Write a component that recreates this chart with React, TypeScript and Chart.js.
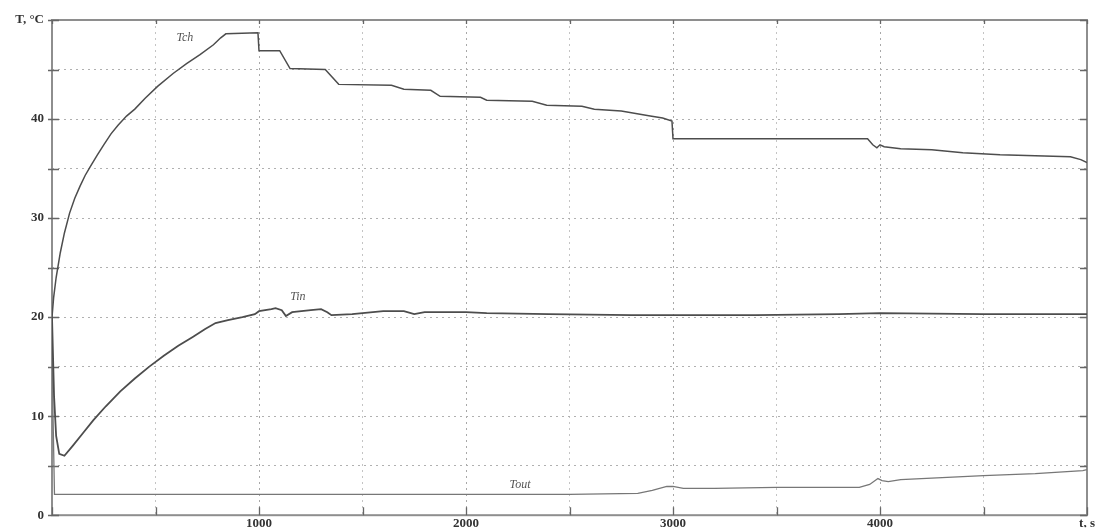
import React, { useEffect, useRef } from "react";
import { Chart, registerables } from "chart.js";

Chart.register(...registerables);

// ---- data (time in s, temperature in °C) ----
const tchTime = [0, 8, 20, 40, 60, 85, 110, 135, 160, 185, 220, 250, 285, 320, 360, 400, 450, 510, 585, 650, 715, 780, 815, 840, 995,
  1000, 1100, 1150, 1320, 1385, 1640, 1700, 1830, 1875, 2070, 2100, 2320, 2390, 2560, 2620, 2750, 2890, 2950, 2995,
  3000, 3940, 3965, 3985, 4000, 4020, 4100, 4250, 4400, 4580, 4750, 4920, 4970, 5000];
const tchTemp = [20, 22, 24, 26.5, 28.5, 30.5, 32, 33.2, 34.3, 35.2, 36.4, 37.4, 38.5, 39.4, 40.3, 41.0, 42.1, 43.3, 44.6, 45.6, 46.5, 47.5, 48.2, 48.6, 48.7,
  46.9, 46.9, 45.1, 45.0, 43.5, 43.4, 43.0, 42.9, 42.3, 42.2, 41.9, 41.8, 41.4, 41.3, 41.0, 40.8, 40.3, 40.1, 39.8,
  38.0, 38.0, 37.4, 37.1, 37.4, 37.2, 37.0, 36.9, 36.6, 36.4, 36.3, 36.2, 35.9, 35.6];

const tinTime = [0, 10, 20, 35, 60, 100, 150, 200, 260, 330, 400, 470, 540, 610, 680, 740, 790, 850, 920, 980, 1000, 1060, 1080, 1110,
  1130, 1160, 1250, 1300, 1330, 1350, 1450, 1600, 1700, 1750, 1800, 2000, 2100, 2400, 2800, 3000, 3400, 3800, 4000, 4500, 5000];
const tinTemp = [20, 12, 8, 6.2, 6.0, 7.0, 8.3, 9.6, 11.0, 12.5, 13.8, 15.0, 16.1, 17.1, 18.0, 18.8, 19.4, 19.7, 20.0, 20.3, 20.6, 20.8, 20.9, 20.7,
  20.1, 20.5, 20.7, 20.8, 20.5, 20.2, 20.3, 20.6, 20.6, 20.3, 20.5, 20.5, 20.4, 20.3, 20.2, 20.2, 20.2, 20.3, 20.4, 20.3, 20.3];

const toutTime = [0, 5, 12, 2500, 2830, 2900, 2970, 3000, 3050, 3200, 3500, 3900, 3950, 3990, 4010, 4040, 4100, 4300, 4500, 4750, 4980, 5000];
const toutTemp = [20, 10, 2.1, 2.1, 2.2, 2.5, 2.9, 2.9, 2.7, 2.7, 2.8, 2.8, 3.1, 3.7, 3.5, 3.4, 3.6, 3.8, 4.0, 4.2, 4.5, 4.6];

const curveNames = ["Tch", "Tin", "Tout"];
const curveLabelTime = [642, 1188, 2261];
const curveLabelTemp = [48.2, 22.0, 3.1];

const xMax = 5000;
const yMax = 50;
const xStep = 500;
const yStep = 5;
const xAxisTitle = "t, s";
const yAxisTitle = "T, °C";

const toPoints = (t: number[], v: number[]) => t.map((x, i) => ({ x, y: v[i] }));

const FONT = '"Liberation Serif", "DejaVu Serif", serif';

const framePlugin = {
  id: "frame",
  beforeDatasetsDraw(chart: any) {
    const { ctx, chartArea: a, scales } = chart;
    const xs = scales.x;
    const ys = scales.y;
    ctx.save();
    ctx.strokeStyle = "#8e8e8e";
    ctx.lineWidth = 2;
    ctx.strokeRect(a.left, a.top, a.right - a.left, a.bottom - a.top);
    ctx.strokeStyle = "#666";
    ctx.lineWidth = 1.3;
    ctx.beginPath();
    ys.ticks.forEach((t: any) => {
      const py = Math.round(ys.getPixelForValue(t.value)) + 0.5;
      ctx.moveTo(a.left - 4, py);
      ctx.lineTo(a.left + 7, py);
      ctx.moveTo(a.right - 7, py);
      ctx.lineTo(a.right, py);
    });
    xs.ticks.forEach((t: any) => {
      const px = Math.round(xs.getPixelForValue(t.value)) + 0.5;
      ctx.moveTo(px, a.bottom);
      ctx.lineTo(px, a.bottom - 8);
      ctx.moveTo(px, a.top);
      ctx.lineTo(px, a.top + 4);
    });
    ctx.stroke();
    ctx.restore();
  },
  afterDatasetsDraw(chart: any) {
    const { ctx, scales } = chart;
    ctx.save();
    ctx.fillStyle = "#555";
    ctx.font = `italic 12px ${FONT}`;
    ctx.textAlign = "center";
    ctx.textBaseline = "middle";
    curveNames.forEach((name, i) => {
      ctx.fillText(name, scales.x.getPixelForValue(curveLabelTime[i]), scales.y.getPixelForValue(curveLabelTemp[i]));
    });
    ctx.restore();
  },
};

export default function App() {
  const ref = useRef<HTMLCanvasElement | null>(null);
  useEffect(() => {
    if (!ref.current) return;
    const chart = new Chart(ref.current, {
      type: "line",
      data: {
        datasets: [
          { label: "Tch", data: toPoints(tchTime, tchTemp), borderColor: "#4d4d4d", borderWidth: 1.5, pointRadius: 0, tension: 0 },
          { label: "Tin", data: toPoints(tinTime, tinTemp), borderColor: "#4d4d4d", borderWidth: 1.8, pointRadius: 0, tension: 0 },
          { label: "Tout", data: toPoints(toutTime, toutTemp), borderColor: "#777", borderWidth: 1.3, pointRadius: 0, tension: 0 },
        ],
      },
      options: {
        animation: false,
        responsive: false,
        devicePixelRatio: 1,
        layout: { padding: { top: 20, right: 12, left: 0, bottom: 0 } },
        plugins: { legend: { display: false }, tooltip: { enabled: false } },
        scales: {
          x: {
            type: "linear",
            min: 0,
            max: xMax,
            afterFit: (s: any) => { s.height = 12; },
            border: { display: false, dash: [2, 4] },
            grid: {
              drawTicks: false,
              color: (c: any) => (c.tick && c.tick.value % 1000 === 0 ? "#a8a8a8" : "#c4c4c4"),
              lineWidth: 1,
            },
            ticks: {
              stepSize: xStep,
              autoSkip: false,
              maxRotation: 0,
              padding: 1,
              color: "#333",
              font: { family: FONT, size: 13, weight: "bold" },
              callback: (v: any) => (v === xMax ? xAxisTitle : v !== 0 && v % 1000 === 0 ? String(v) : ""),
            },
          },
          y: {
            type: "linear",
            min: 0,
            max: yMax,
            afterFit: (s: any) => { s.width = 52; },
            border: { display: false, dash: [2, 4] },
            grid: { drawTicks: false, color: "#b0b0b0", lineWidth: 1 },
            ticks: {
              stepSize: yStep,
              autoSkip: false,
              padding: 8,
              color: "#333",
              font: { family: FONT, size: 13, weight: "bold" },
              callback: (v: any) => (v === yMax ? yAxisTitle : v % 10 === 0 ? String(v) : ""),
            },
          },
        },
      },
      plugins: [framePlugin],
    } as any);
    return () => chart.destroy();
  }, []);
  return (
    <div style={{ position: "fixed", left: 0, top: 0, width: 1099, height: 531, background: "#fff" }}>
      <canvas ref={ref} width={1099} height={531} />
    </div>
  );
}
